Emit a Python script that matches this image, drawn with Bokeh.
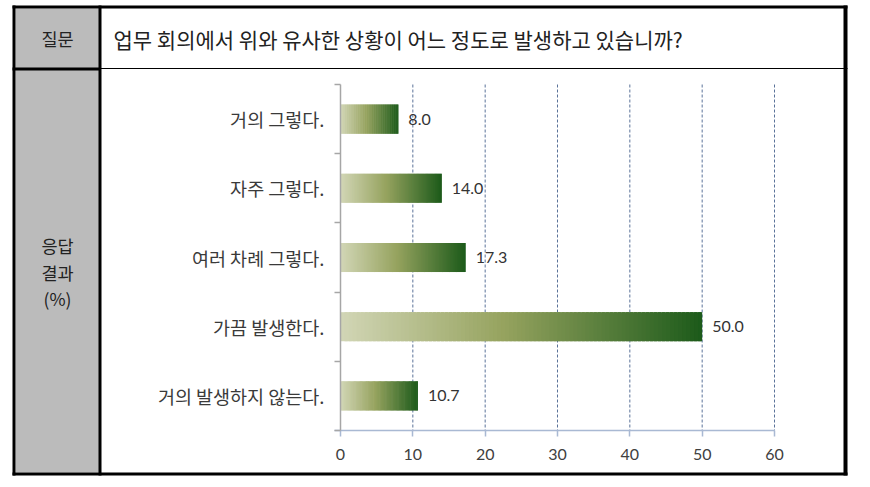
from bokeh.plotting import figure
from bokeh.models import Range1d, FixedTicker, BoxAnnotation, Label, ColumnDataSource, LinearAxis
from bokeh.core.properties import value
from bokeh.embed import file_html
from bokeh.resources import INLINE

# ---- data ----
categories = ["거의 그렇다.", "자주 그렇다.", "여러 차례 그렇다.", "가끔 발생한다.", "거의 발생하지 않는다."]
percent = [8.0, 14.0, 17.3, 50.0, 10.7]
x_ticks = [0, 10, 20, 30, 40, 50, 60]
question = "업무 회의에서 위와 유사한 상황이 어느 정도로 발생하고 있습니까?"
header_left = "질문"
response_lines = ["응답", "결과", "(%)"]

# gradient stops (position, rgb)
grad_stops = [(0.0, (210, 214, 182)), (0.45, (150, 163, 95)), (1.0, (28, 90, 26))]

KFONT = "Noto Sans CJK KR"
NFONT = "Lato"

W, H = 870, 487
# chart frame placement on the canvas (pixels)
X0, X60 = 340.0, 774.0      # where value 0 and value 60 sit
YT, YB = 84.0, 430.0        # top / bottom of the category bands
n = len(categories)
xs = (X60 - X0) / 60.0
ys = (YB - YT) / n

p = figure(width=W, height=H, output_backend="svg", toolbar_location=None,
           x_range=Range1d(-X0 / xs, (W - X0) / xs),
           y_range=Range1d((H - YT) / ys, -YT / ys),
           min_border=0, x_axis_type=None, y_axis_type=None,
           background_fill_color="white", border_fill_color="white")
p.outline_line_color = None
p.xgrid.visible = False
p.ygrid.visible = False

tick_len = 6.0 / xs

# dashed vertical gridlines, only over the band area
p.segment(x0=x_ticks[1:], x1=x_ticks[1:], y0=[0] * (len(x_ticks) - 1), y1=[n] * (len(x_ticks) - 1),
          line_color="#5A7299", line_dash="3 2", line_width=1)

# ---- gradient bars as slices ----
def grad_color(t):
    for (t0, c0), (t1, c1) in zip(grad_stops[:-1], grad_stops[1:]):
        if t <= t1:
            f = (t - t0) / (t1 - t0)
            return "#%02x%02x%02x" % tuple(int(round(a + (b - a) * f)) for a, b in zip(c0, c1))
    return "#%02x%02x%02x" % grad_stops[-1][1]

N = 90
bar_h = 0.42
L, R, T, B, C = [], [], [], [], []
for i, v in enumerate(percent):
    for k in range(N):
        L.append(v * k / N)
        R.append(min(v, v * (k + 1.8) / N))
        T.append(i + 0.5 - bar_h / 2)
        B.append(i + 0.5 + bar_h / 2)
        C.append(grad_color((k + 0.5) / N))
src = ColumnDataSource(dict(left=L, right=R, top=T, bottom=B, color=C))
p.quad(left="left", right="right", top="top", bottom="bottom", source=src,
       fill_color="color", line_color=None)

# value labels
vsrc = ColumnDataSource(dict(x=percent, y=[i + 0.5 for i in range(n)],
                             t=["%.1f" % v for v in percent]))
p.text(x="x", y="y", text="t", source=vsrc, x_offset=10, text_align="left",
       text_baseline="middle", text_font=value(NFONT), text_font_size="16px",
       text_color="#333333")

# ---- axes (fixed inside the canvas) ----
xa = LinearAxis(fixed_location=n, ticker=FixedTicker(ticks=x_ticks), bounds=(-tick_len, x_ticks[-1]))
xa.axis_line_color = "#A9B9D3"
xa.axis_line_width = 1.5
xa.major_tick_line_color = "#A9B9D3"
xa.major_tick_line_width = 1.5
xa.major_tick_in = 0
xa.major_tick_out = 6
xa.minor_tick_line_color = None
xa.major_label_text_font = NFONT
xa.major_label_text_font_size = "16px"
xa.major_label_text_color = "#404040"
xa.major_label_standoff = 12
p.add_layout(xa, "below")

# y axis: boundary ticks + line
ya_ticks = LinearAxis(fixed_location=0, ticker=FixedTicker(ticks=list(range(n + 1))), bounds=(0, n))
ya_ticks.axis_line_color = "#A6A6A6"
ya_ticks.axis_line_width = 1.5
ya_ticks.major_tick_line_color = "#A6A6A6"
ya_ticks.major_tick_line_width = 1.5
ya_ticks.major_tick_in = 0
ya_ticks.major_tick_out = 6
ya_ticks.minor_tick_line_color = None
ya_ticks.major_label_text_font_size = "0px"
ya_ticks.major_label_overrides = {i: "" for i in range(n + 1)}
p.add_layout(ya_ticks, "left")

# y axis: category labels at band centres
ya = LinearAxis(fixed_location=0, ticker=FixedTicker(ticks=[i + 0.5 for i in range(n)]))
ya.major_label_overrides = {i + 0.5: c for i, c in enumerate(categories)}
ya.axis_line_color = None
ya.major_tick_line_color = None
ya.minor_tick_line_color = None
ya.major_label_text_font = KFONT
ya.major_label_text_font_size = "18.5px"
ya.major_label_text_color = "#3A3A3A"
ya.major_label_standoff = 10
p.add_layout(ya, "left")

# ---- table frame (canvas units) ----
def box(l, r, t, b, fill):
    p.add_layout(BoxAnnotation(left=l, right=r, top=t, bottom=b,
                               left_units="canvas", right_units="canvas",
                               top_units="canvas", bottom_units="canvas",
                               fill_color=fill, fill_alpha=1, line_color=None))

box(15, 99, 8, 472, "#BBBBBB")
box(98, 101, 5, 475, "black")           # column divider
box(12, 100, 67, 70, "black")           # row divider in gray column
box(100, 847, 67.5, 68.5, "black")      # row divider in white area
box(12, 847, 5, 8, "black")             # top
box(12, 847, 472, 475, "black")         # bottom
box(12, 15, 5, 475, "black")            # left
box(843, 847, 5, 475, "black")          # right

def lab(x, y, t, align="center", size="18px"):
    p.add_layout(Label(x=x, y=y, x_units="canvas", y_units="canvas", text=t,
                       text_align=align, text_baseline="middle",
                       text_font=KFONT, text_font_size=size, text_color="#222222"))

lab(57, 38, header_left, size="17.5px")
lab(113, 38, question, align="left", size="21px")
for j, t in enumerate(response_lines):
    lab(57, 245 + 26.5 * j, t, size="17.5px")

open("out.html", "w").write(file_html(p, INLINE))
